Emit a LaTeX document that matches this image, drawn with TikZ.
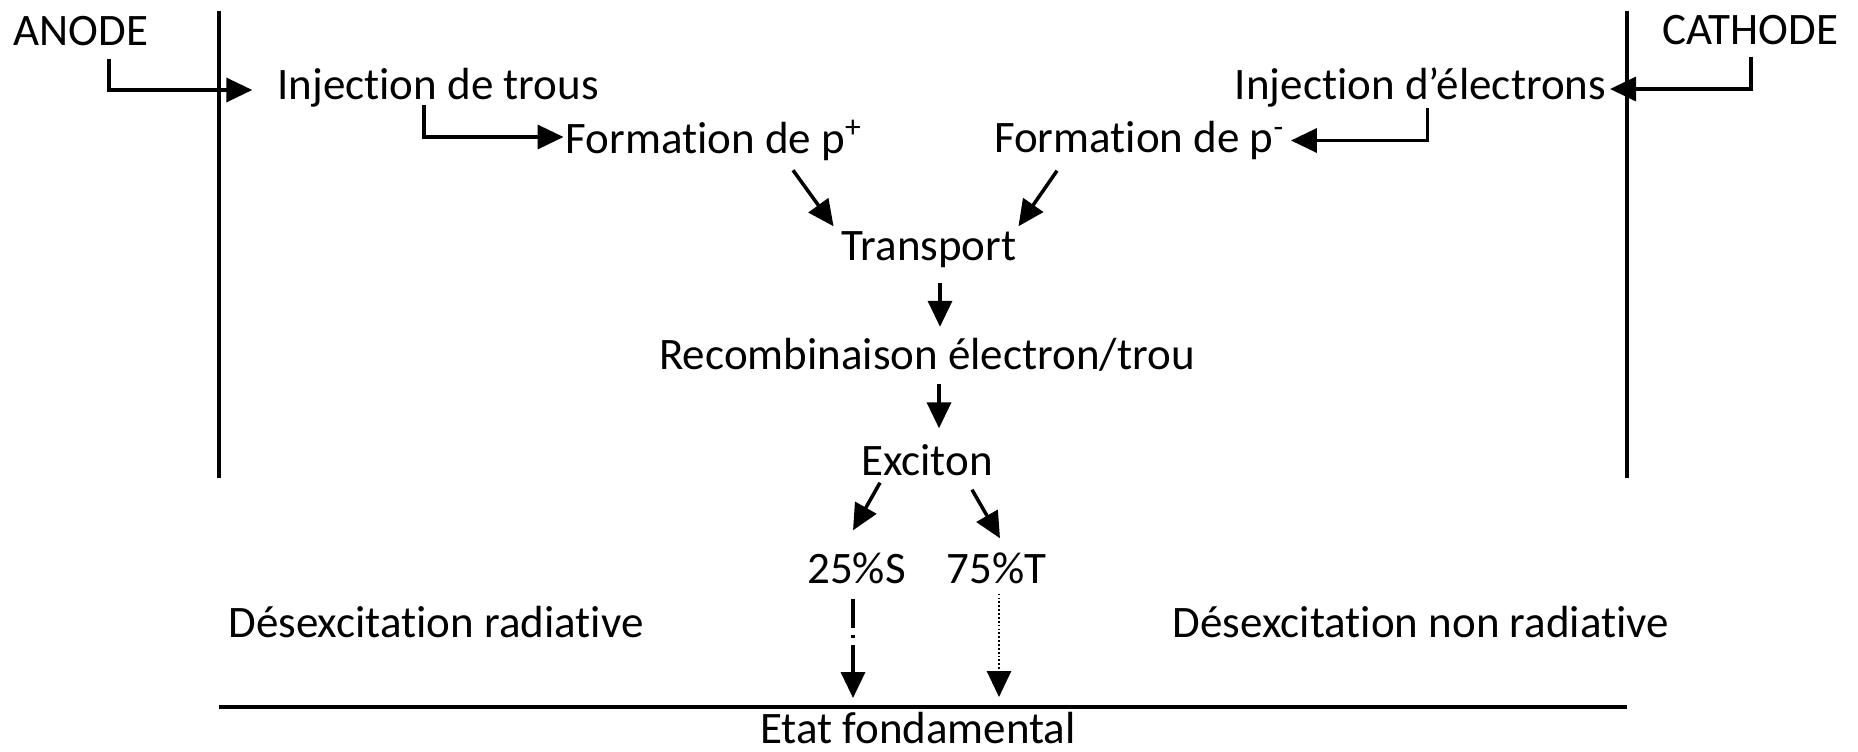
\documentclass[tikz,border=0pt]{standalone}
\usepackage{fontspec}
\setmainfont{Carlito}[Ligatures={NoCommon,NoContextual,NoRare}]
\usetikzlibrary{arrows.meta,positioning,calc}

\begin{document}
\begin{tikzpicture}[x=0.01cm, y=-0.01cm,
    step label/.style={inner sep=0pt, outer sep=0pt, text height=0.284cm, text depth=0pt, font=\fontsize{12.8}{15}\selectfont},
    flow/.style={-{Triangle[length=0.26cm, width=0.24cm]}, line width=1pt},
    wall/.style={line width=1pt},
    singlet path/.style={dash pattern=on 0.29cm off 0.07cm on 0.03cm off 0.07cm},
    triplet path/.style={dash pattern=on 0.5pt off 0.6pt}
]
    \useasboundingbox (0,0) rectangle (1858,751);

    % electrodes and ground level
    \coordinate (at) at (219,11);
    \coordinate (ab) at (219,478);
    \coordinate (ct) at (1627,11);
    \coordinate (cb) at (1627,478);
    \coordinate (gl) at (219,707);
    \coordinate (gr) at (1627,707);
    \draw[wall] (at) -- (ab);
    \draw[wall] (ct) -- (cb);
    \draw[wall] (gl) -- (gr);

    \node[step label] (anode) at (81,31) {ANODE};
    \node[step label] (cathode) at (1750,30.5) {CATHODE};
    \node[step label] (injh) at (438,85) {Injection de trous};
    \node[step label] (inje) at (1420.5,85) {Injection d’électrons};
    \node[step label] (formp) at (714,139) {Formation de p\textsuperscript{+}};
    \node[step label] (formn) at (1139.5,138.5) {Formation de p\textsuperscript{-}};
    \node[step label] (transp) at (929,246.5) {Transport};
    \node[step label] (recomb) at (927,355) {Recombinaison électron/trou};
    \node[step label] (exciton) at (927,461.5) {Exciton};
    \node[step label] (singlet) at (856.5,569.5) {25\%S};
    \node[step label] (triplet) at (996.5,569.5) {75\%T};
    \node[step label] (rad) at (436,623) {Désexcitation radiative};
    \node[step label] (nonrad) at (1421,623) {Désexcitation non radiative};
    \node[step label] (ground) at (918,729.5) {Etat fondamental};

    % injection
    \draw[flow] ($(anode.south)+(28,14)$) |- ($(injh.west)+(-25,5)$);
    \draw[flow] ($(injh.south)+(-14,6)$) |- ($(formp.west)+(-2,-2)$);
    \draw[flow] ($(cathode.south)+(1,12)$) |- ($(inje.east)+(4,4)$);
    \draw[flow] ($(inje.south)+(7,9)$) |- ($(formn.east)+(6,2)$);

    % transport and recombination
    \draw[flow] ($(formp.south)+(79,17)$) -- ($(transp.north west)+(-8,-6)$);
    \draw[flow] ($(formn.south)+(-82.5,18)$) -- ($(transp.north east)+(2,-6)$);
    \draw[flow] ($(transp.south)+(11,22)$) -- ($(recomb.north)+(13,-14)$);
    \draw[flow] ($(recomb.south)+(12,15)$) -- ($(exciton.north)+(12,-19)$);
    \draw[flow] ($(exciton.south)+(-47,7)$) -- ($(singlet.north)+(-3.5,-25)$);
    \draw[flow] ($(exciton.south)+(45,14)$) -- ($(triplet.north)+(3.5,-17)$);

    % decay to the ground state
    \draw[flow, singlet path] ($(singlet.south)+(-3.5,15)$) -- ($(singlet.south |- gl)+(-3.5,-9)$);
    \draw[flow, triplet path, line width=0.8pt] ($(triplet.south)+(2.5,10)$) -- ($(triplet.south |- gl)+(2.5,-10)$);
\end{tikzpicture}
\end{document}
